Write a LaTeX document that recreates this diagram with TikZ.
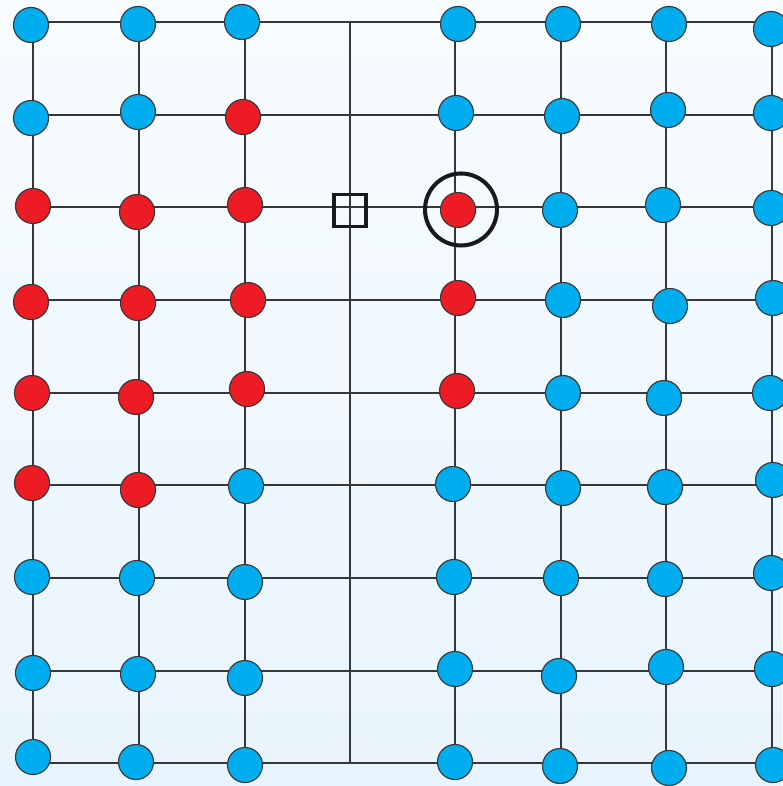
\documentclass[tikz,border=0pt]{standalone}
\definecolor{siteblue}{RGB}{0, 174, 239}
\definecolor{sitered}{RGB}{237, 28, 36}
\definecolor{bgtop}{RGB}{248, 252, 255}
\definecolor{bgbot}{RGB}{232, 244, 253}
\definecolor{wire}{RGB}{55, 55, 55}
\usepackage{tikz}

\begin{document}
\begin{tikzpicture}[
  x=0.02cm, y=-0.02cm,
  site/.style={circle, draw=wire, line width=0.65pt, minimum size=0.7cm, inner sep=0pt},
  bsite/.style={site, fill=siteblue},
  rsite/.style={site, fill=sitered},
  gline/.style={draw=wire, line width=0.85pt},
]
% Background
\useasboundingbox (0,0) rectangle (782,786);
\fill[top color=bgtop, bottom color=bgbot] (0,0) rectangle (782,786);

% Grid line ends
\coordinate (t1) at (33,22); \coordinate (t2) at (139,22); \coordinate (t3) at (245,22); \coordinate (t4) at (350,22);
\coordinate (t5) at (455,22); \coordinate (t6) at (561,22); \coordinate (t7) at (666,22); \coordinate (t8) at (772,22);
\coordinate (b1) at (33,763); \coordinate (b2) at (139,763); \coordinate (b3) at (245,763); \coordinate (b4) at (350,763);
\coordinate (b5) at (455,763); \coordinate (b6) at (561,763); \coordinate (b7) at (666,763); \coordinate (b8) at (772,763);
\coordinate (l1) at (33,115); \coordinate (l2) at (33,207); \coordinate (l3) at (33,300); \coordinate (l4) at (33,393);
\coordinate (l5) at (33,485); \coordinate (l6) at (33,578); \coordinate (l7) at (33,671);
\coordinate (e1) at (772,115); \coordinate (e2) at (772,207); \coordinate (e3) at (772,300); \coordinate (e4) at (772,393);
\coordinate (e5) at (772,485); \coordinate (e6) at (772,578); \coordinate (e7) at (772,671);

% Grid lines
\draw[gline] (t1) -- (b1) (t2) -- (b2) (t3) -- (b3) (t4) -- (b4)
             (t5) -- (b5) (t6) -- (b6) (t7) -- (b7) (t8) -- (b8);
\draw[gline] (t1) -- (t8) (l1) -- (e1) (l2) -- (e2) (l3) -- (e3) (l4) -- (e4)
             (l5) -- (e5) (l6) -- (e6) (l7) -- (e7) (b1) -- (b8);

% Row 0
\node[bsite] (s01) at (31,25) {}; \node[bsite] (s02) at (138,24) {}; \node[bsite] (s03) at (242,22) {};
\node[bsite] (s05) at (458,24) {}; \node[bsite] (s06) at (563,24) {}; \node[bsite] (s07) at (669,24) {}; \node[bsite] (s08) at (771,29) {};
% Row 1
\node[bsite] (s11) at (31,118) {}; \node[bsite] (s12) at (138,112) {}; \node[rsite] (s13) at (243,117) {};
\node[bsite] (s15) at (456,113) {}; \node[bsite] (s16) at (562,116) {}; \node[bsite] (s17) at (668,110) {}; \node[bsite] (s18) at (771,113) {};
% Row 2
\node[rsite] (s21) at (33,206) {}; \node[rsite] (s22) at (137,212) {}; \node[rsite] (s23) at (245,205) {};
\node[rsite] (s25) at (458,210) {}; \node[bsite] (s26) at (560,210) {}; \node[bsite] (s27) at (663,205) {}; \node[bsite] (s28) at (771,208) {};
% Row 3
\node[rsite] (s31) at (31,302) {}; \node[rsite] (s32) at (138,303) {}; \node[rsite] (s33) at (248,300) {};
\node[rsite] (s35) at (458,298) {}; \node[bsite] (s36) at (563,300) {}; \node[bsite] (s37) at (670,306) {}; \node[bsite] (s38) at (773,298) {};
% Row 4
\node[rsite] (s41) at (32,393) {}; \node[rsite] (s42) at (136,397) {}; \node[rsite] (s43) at (247,389) {};
\node[rsite] (s45) at (457,391) {}; \node[bsite] (s46) at (563,393) {}; \node[bsite] (s47) at (664,398) {}; \node[bsite] (s48) at (770,393) {};
% Row 5
\node[rsite] (s51) at (32,483) {}; \node[rsite] (s52) at (138,490) {}; \node[bsite] (s53) at (246,486) {};
\node[bsite] (s55) at (453,484) {}; \node[bsite] (s56) at (563,488) {}; \node[bsite] (s57) at (665,487) {}; \node[bsite] (s58) at (773,480) {};
% Row 6
\node[bsite] (s61) at (32,577) {}; \node[bsite] (s62) at (137,578) {}; \node[bsite] (s63) at (245,582) {};
\node[bsite] (s65) at (454,577) {}; \node[bsite] (s66) at (561,578) {}; \node[bsite] (s67) at (665,579) {}; \node[bsite] (s68) at (771,573) {};
% Row 7
\node[bsite] (s71) at (33,673) {}; \node[bsite] (s72) at (138,674) {}; \node[bsite] (s73) at (245,678) {};
\node[bsite] (s75) at (455,669) {}; \node[bsite] (s76) at (559,676) {}; \node[bsite] (s77) at (666,667) {}; \node[bsite] (s78) at (772,669) {};
% Row 8
\node[bsite] (s81) at (33,757) {}; \node[bsite] (s82) at (136,762) {}; \node[bsite] (s83) at (245,765) {};
\node[bsite] (s85) at (455,762) {}; \node[bsite] (s86) at (560,766) {}; \node[bsite] (s87) at (669,768) {}; \node[bsite] (s88) at (773,765) {};

% Square marker and ring
\node[draw=black!90, line width=1.8pt, minimum size=0.64cm, inner sep=0pt] (probe) at (350,210.5) {};
\node[circle, draw=black!90, line width=2.3pt, minimum size=1.44cm, inner sep=0pt] (ring) at (461,209.5) {};
\end{tikzpicture}
\end{document}
